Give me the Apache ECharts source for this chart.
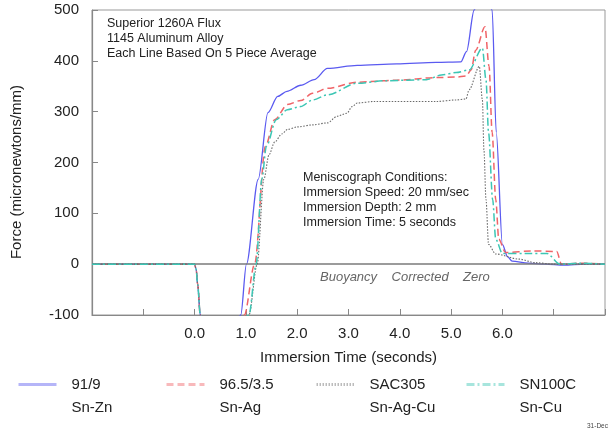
<!DOCTYPE html>
<html>
<head>
<meta charset="utf-8">
<script src="https://cdn.jsdelivr.net/npm/echarts@6/dist/echarts.min.js"></script>
<style>
  html, body { margin: 0; padding: 0; background: #fff; }
  #chart { width: 608px; height: 431px; }
</style>
</head>
<body>
<div id="chart"></div>
<script>
// Immersion time (s) and wetting force (micronewtons/mm) per alloy
const timeSnZn  = [-2, 0, 0.03, 0.06, 0.11, 0.5, 0.9, 1.01, 1.24, 1.43, 1.62, 1.8, 2.07, 2.33, 2.59, 3.17, 3.94, 4.71, 5.19, 5.3, 5.45, 5.62, 5.8, 5.88, 6.0, 6.1, 6.19, 6.5, 6.83, 7.2, 7.6, 8];
const forceSnZn = [0, 0, -10, -40, -100, -300, -100, 0, 167, 298, 330, 340, 352, 363, 385, 391, 394, 397, 398, 418, 500, 560, 500, 259, 39, 15, 6, 2, 0, -2, 0, 0];

const timeSnAg  = [-2, 0, 0.03, 0.06, 0.11, 0.5, 0.97, 1.17, 1.38, 1.56, 1.81, 2.07, 2.3, 2.59, 3.17, 3.94, 4.71, 5.1, 5.29, 5.39, 5.48, 5.66, 5.74, 5.8, 5.87, 5.93, 6.06, 6.58, 7.06, 7.15, 7.5, 8];
const forceSnAg = [0, 0, -10, -40, -100, -300, -100, 0, 232, 284, 314, 322, 336, 346, 358, 362, 367, 368, 370, 382, 421, 467, 389, 259, 127, 49, 23, 26, 25, 0, 2, 0];

const timeSAC   = [-2, 0, 0.03, 0.06, 0.11, 0.5, 1.06, 1.22, 1.35, 1.45, 1.56, 1.7, 1.81, 2.0, 2.3, 2.59, 2.78, 2.97, 3.07, 3.17, 3.5, 4.71, 5.1, 5.29, 5.35, 5.55, 5.61, 5.64, 5.68, 5.73, 5.87, 6.32, 6.64, 7, 8];
const forceSAC  = [0, 0, -10, -40, -100, -300, -100, 0, 167, 215, 240, 256, 265, 270, 274, 278, 291, 297, 310, 317, 320, 320, 323, 325, 343, 389, 323, 225, 127, 39, 20, 10, 3, 0, 0];

const timeSnCu  = [-2, 0, 0.03, 0.06, 0.11, 0.5, 1.06, 1.2, 1.31, 1.4, 1.59, 1.81, 2.07, 2.3, 2.59, 3.17, 3.75, 4.52, 4.81, 5.1, 5.35, 5.61, 5.68, 5.73, 5.81, 5.87, 6.0, 6.5, 6.87, 7.12, 7.5, 8];
const forceSnCu = [0, 0, -10, -40, -100, -300, -100, 0, 167, 232, 284, 304, 310, 323, 333, 356, 361, 363, 372, 377, 382, 425, 363, 259, 127, 49, 21, 21, 21, 0, 2, 0];

const alloyNames  = ['91/9', '96.5/3.5', 'SAC305', 'SN100C'];
const alloyTypes  = ['Sn-Zn', 'Sn-Ag', 'Sn-Ag-Cu', 'Sn-Cu'];
const tickLabels  = ['0.0', '1.0', '2.0', '3.0', '4.0', '5.0', '6.0'];
const fluxNotes   = ['Superior 1260A Flux', '1145 Aluminum Alloy', 'Each Line Based On 5 Piece Average'];
const testNotes   = ['Meniscograph Conditions:', 'Immersion Speed: 20 mm/sec', 'Immersion Depth: 2 mm', 'Immersion Time: 5 seconds'];

const FONT = '"Liberation Sans", Arial, sans-serif';
const pair = (t, f) => t.map((v, i) => [v, f[i]]);

const seriesDefs = [
  { data: pair(timeSnZn, forceSnZn), color: '#5a5af0', type: 'solid', width: 1.3 },
  { data: pair(timeSnAg, forceSnAg), color: '#f06468', type: [7, 4], width: 1.5 },
  { data: pair(timeSAC, forceSAC), color: '#6a6a6a', type: [1.5, 1.5], width: 1.1 },
  { data: pair(timeSnCu, forceSnCu), color: '#3cc6b4', type: [8, 3, 2, 3], width: 1.5 }
];

const legendLeft = [12, 160, 310, 460];

const chart = echarts.init(document.getElementById('chart'), null, { renderer: 'canvas' });

const series = seriesDefs.map((d, i) => ({
  name: alloyNames[i],
  type: 'line',
  data: d.data,
  showSymbol: false,
  symbol: 'none',
  smooth: 0.3,
  smoothMonotone: 'x',
  clip: true,
  silent: true,
  z: 3 + i,
  lineStyle: { color: d.color, width: d.width, type: d.type },
  itemStyle: { color: d.color }
}));

// zero reference line
series[0].markLine = {
  silent: true,
  symbol: 'none',
  label: { show: false },
  lineStyle: { color: '#7a7a7a', width: 1.5, type: 'solid' },
  data: [{ yAxis: 0 }]
};

const legends = alloyNames.map((name, i) => ({
  data: [name],
  left: legendLeft[i],
  top: 345,
  orient: 'horizontal',
  itemWidth: 38,
  itemHeight: 10,
  selectedMode: false,
  formatter: () => '\n' + name + '\n' + alloyTypes[i],
  textStyle: {
    fontFamily: FONT, fontSize: 15, color: '#222', lineHeight: 23,
    padding: [0, 0, 0, 10]
  },
  itemStyle: { opacity: 0 },
  lineStyle: { width: 3, opacity: 0.45 }
}));

const graphic = [];
fluxNotes.forEach((t, i) => graphic.push({
  type: 'text', left: 107, top: 17 + i * 15, silent: true,
  style: { text: t, fontFamily: FONT, fontSize: 12.5, fill: '#222' }
}));
testNotes.forEach((t, i) => graphic.push({
  type: 'text', left: 303, top: 171 + i * 15, silent: true,
  style: { text: t, fontFamily: FONT, fontSize: 12.5, fill: '#222' }
}));
graphic.push({
  type: 'text', left: 320, top: 271, silent: true,
  style: { text: 'Buoyancy    Corrected    Zero', fontFamily: FONT, fontSize: 13,
           fontStyle: 'italic', fill: '#666' }
});
graphic.push({
  type: 'text', x: 17, y: 172, rotation: Math.PI / 2, silent: true,
  style: { text: 'Force (micronewtons/mm)', fontFamily: FONT, fontSize: 15, fill: '#222',
           align: 'center', verticalAlign: 'middle' }
});
graphic.push({
  type: 'text', left: 587, top: 423, silent: true,
  style: { text: '31-Dec', fontFamily: FONT, fontSize: 6.5, fill: '#444' }
});

chart.setOption({
  animation: false,
  backgroundColor: '#fff',
  grid: { left: 92, top: 10, right: -2, bottom: 116, show: true, borderColor: '#999', borderWidth: 1 },
  xAxis: {
    type: 'value', min: -2, max: 8, interval: 1,
    name: 'Immersion Time (seconds)', nameLocation: 'middle', nameGap: 35,
    nameTextStyle: { fontFamily: FONT, fontSize: 15, color: '#222' },
    axisLine: { show: true, onZero: false, lineStyle: { color: '#888', width: 1.2 } },
    axisTick: { show: true, inside: true, length: 6, lineStyle: { color: '#888' } },
    splitLine: { show: false },
    axisLabel: {
      margin: 11, fontFamily: FONT, fontSize: 15, color: '#222',
      formatter: v => (v >= 0 && v <= 6) ? tickLabels[Math.round(v)] : ''
    }
  },
  yAxis: {
    type: 'value', min: -100, max: 500, interval: 100,
    axisLine: { show: true, onZero: false, lineStyle: { color: '#888', width: 1.2 } },
    axisTick: { show: true, inside: true, length: 6, lineStyle: { color: '#888' } },
    splitLine: { show: false },
    axisLabel: { margin: 13, fontFamily: FONT, fontSize: 15, color: '#222' }
  },
  legend: legends,
  graphic: graphic,
  series: series
});
</script>
</body>
</html>
